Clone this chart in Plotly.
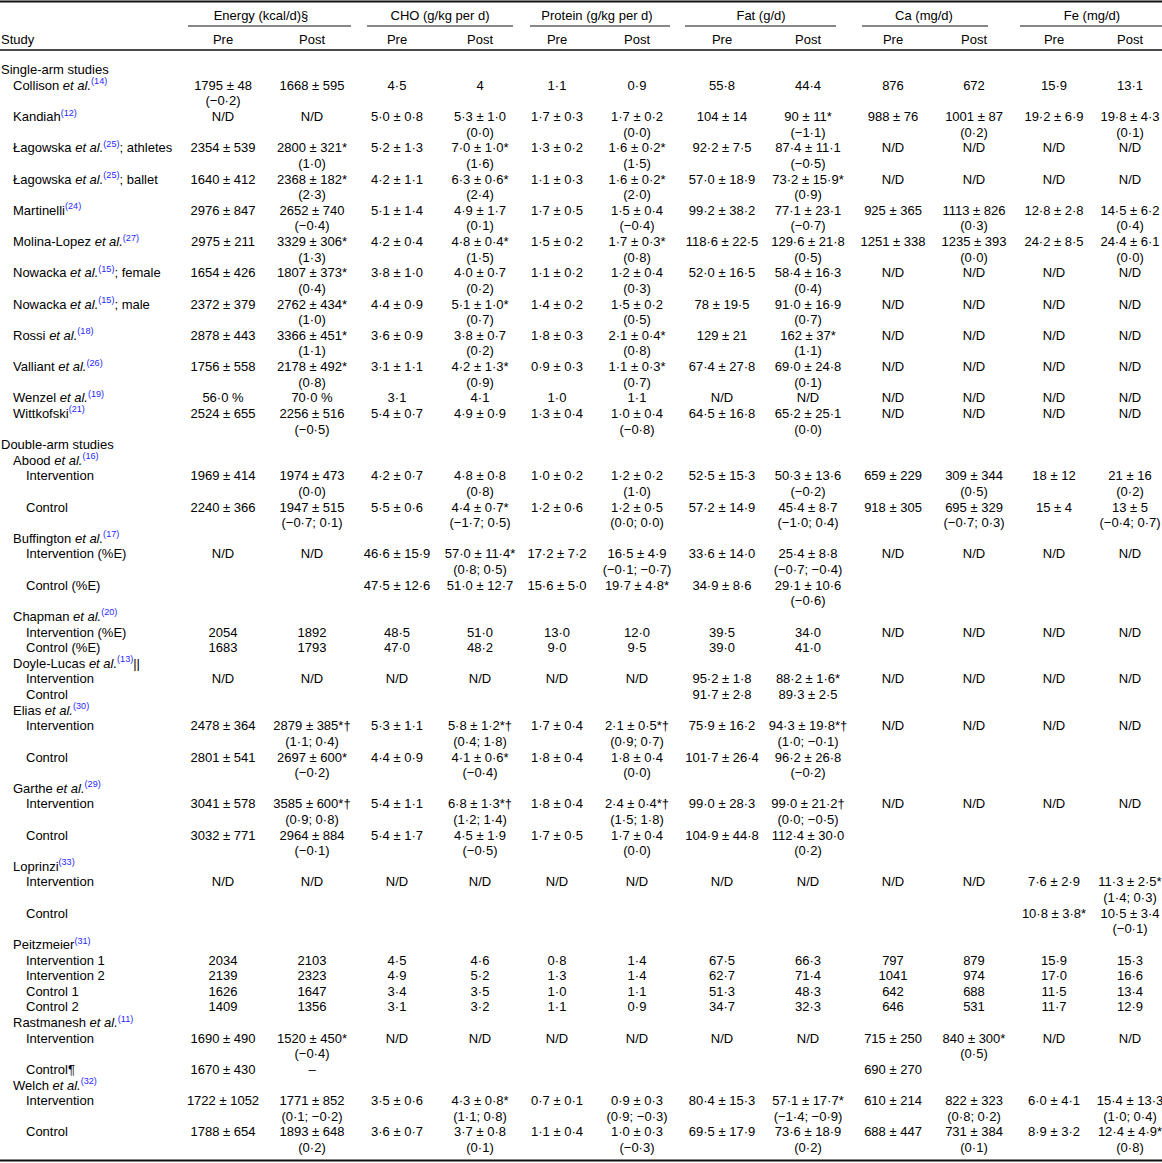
import plotly.graph_objects as go

# ---------------- data ----------------
BLUE = "#1f1fff"
def ref(n):
    return "<sup><span style='color:%s'>(%d)</span></sup>" % (BLUE, n)
ET = " <i>et al.</i>"

studies = [
    "Single-arm studies",
    "Collison" + ET + ref(14),
    "Kandiah" + ref(12),
    "Łagowska" + ET + ref(25) + "; athletes",
    "Łagowska" + ET + ref(25) + "; ballet",
    "Martinelli" + ref(24),
    "Molina-Lopez" + ET + ref(27),
    "Nowacka" + ET + ref(15) + "; female",
    "Nowacka" + ET + ref(15) + "; male",
    "Rossi" + ET + ref(18),
    "Valliant" + ET + ref(26),
    "Wenzel" + ET + ref(19),
    "Wittkofski" + ref(21),
    "Double-arm studies",
    "Abood" + ET + ref(16),
    "Intervention",
    "Control",
    "Buffington" + ET + ref(17),
    "Intervention (%E)",
    "Control (%E)",
    "Chapman" + ET + ref(20),
    "Intervention (%E)",
    "Control (%E)",
    "Doyle-Lucas" + ET + ref(13) + "<span style='color:#000000'>||</span>",
    "Intervention",
    "Control",
    "Elias" + ET + ref(30),
    "Intervention",
    "Control",
    "Garthe" + ET + ref(29),
    "Intervention",
    "Control",
    "Loprinzi" + ref(33),
    "Intervention",
    "Control",
    "Peitzmeier" + ref(31),
    "Intervention 1",
    "Intervention 2",
    "Control 1",
    "Control 2",
    "Rastmanesh" + ET + ref(11),
    "Intervention",
    "Control¶",
    "Welch" + ET + ref(32),
    "Intervention",
    "Control",
]
levels = [0, 1, 1, 1, 1, 1, 1, 1, 1, 1, 1, 1, 1,
          0, 1, 2, 2, 1, 2, 2, 1, 2, 2, 1, 2, 2, 1, 2, 2, 1, 2, 2, 1, 2, 2,
          1, 2, 2, 2, 2, 1, 2, 2, 1, 2, 2]

ND = "N/D"
energy_pre = ["", "1795 ± 48\n(−0·2)", ND, "2354 ± 539", "1640 ± 412", "2976 ± 847", "2975 ± 211",
              "1654 ± 426", "2372 ± 379", "2878 ± 443", "1756 ± 558", "56·0 %", "2524 ± 655",
              "", "", "1969 ± 414", "2240 ± 366", "", ND, "", "", "2054", "1683", "", ND, "",
              "", "2478 ± 364", "2801 ± 541", "", "3041 ± 578", "3032 ± 771", "", ND, "",
              "", "2034", "2139", "1626", "1409", "", "1690 ± 490", "1670 ± 430", "",
              "1722 ± 1052", "1788 ± 654"]
energy_post = ["", "1668 ± 595", ND, "2800 ± 321*\n(1·0)", "2368 ± 182*\n(2·3)", "2652 ± 740\n(−0·4)",
               "3329 ± 306*\n(1·3)", "1807 ± 373*\n(0·4)", "2762 ± 434*\n(1·0)", "3366 ± 451*\n(1·1)",
               "2178 ± 492*\n(0·8)", "70·0 %", "2256 ± 516\n(−0·5)",
               "", "", "1974 ± 473\n(0·0)", "1947 ± 515\n(−0·7; 0·1)", "", ND, "", "", "1892", "1793",
               "", ND, "", "", "2879 ± 385*†\n(1·1; 0·4)", "2697 ± 600*\n(−0·2)", "",
               "3585 ± 600*†\n(0·9; 0·8)", "2964 ± 884\n(−0·1)", "", ND, "",
               "", "2103", "2323", "1647", "1356", "", "1520 ± 450*\n(−0·4)", "–", "",
               "1771 ± 852\n(0·1; −0·2)", "1893 ± 648\n(0·2)"]
cho_pre = ["", "4·5", "5·0 ± 0·8", "5·2 ± 1·3", "4·2 ± 1·1", "5·1 ± 1·4", "4·2 ± 0·4", "3·8 ± 1·0",
           "4·4 ± 0·9", "3·6 ± 0·9", "3·1 ± 1·1", "3·1", "5·4 ± 0·7",
           "", "", "4·2 ± 0·7", "5·5 ± 0·6", "", "46·6 ± 15·9", "47·5 ± 12·6", "", "48·5", "47·0",
           "", ND, "", "", "5·3 ± 1·1", "4·4 ± 0·9", "", "5·4 ± 1·1", "5·4 ± 1·7", "", ND, "",
           "", "4·5", "4·9", "3·4", "3·1", "", ND, "", "", "3·5 ± 0·6", "3·6 ± 0·7"]
cho_post = ["", "4", "5·3 ± 1·0\n(0·0)", "7·0 ± 1·0*\n(1·6)", "6·3 ± 0·6*\n(2·4)", "4·9 ± 1·7\n(0·1)",
            "4·8 ± 0·4*\n(1·5)", "4·0 ± 0·7\n(0·2)", "5·1 ± 1·0*\n(0·7)", "3·8 ± 0·7\n(0·2)",
            "4·2 ± 1·3*\n(0·9)", "4·1", "4·9 ± 0·9",
            "", "", "4·8 ± 0·8\n(0·8)", "4·4 ± 0·7*\n(−1·7; 0·5)", "", "57·0 ± 11·4*\n(0·8; 0·5)",
            "51·0 ± 12·7", "", "51·0", "48·2", "", ND, "", "", "5·8 ± 1·2*†\n(0·4; 1·8)",
            "4·1 ± 0·6*\n(−0·4)", "", "6·8 ± 1·3*†\n(1·2; 1·4)", "4·5 ± 1·9\n(−0·5)", "", ND, "",
            "", "4·6", "5·2", "3·5", "3·2", "", ND, "", "", "4·3 ± 0·8*\n(1·1; 0·8)", "3·7 ± 0·8\n(0·1)"]
protein_pre = ["", "1·1", "1·7 ± 0·3", "1·3 ± 0·2", "1·1 ± 0·3", "1·7 ± 0·5", "1·5 ± 0·2", "1·1 ± 0·2",
               "1·4 ± 0·2", "1·8 ± 0·3", "0·9 ± 0·3", "1·0", "1·3 ± 0·4",
               "", "", "1·0 ± 0·2", "1·2 ± 0·6", "", "17·2 ± 7·2", "15·6 ± 5·0", "", "13·0", "9·0",
               "", ND, "", "", "1·7 ± 0·4", "1·8 ± 0·4", "", "1·8 ± 0·4", "1·7 ± 0·5", "", ND, "",
               "", "0·8", "1·3", "1·0", "1·1", "", ND, "", "", "0·7 ± 0·1", "1·1 ± 0·4"]
protein_post = ["", "0·9", "1·7 ± 0·2\n(0·0)", "1·6 ± 0·2*\n(1·5)", "1·6 ± 0·2*\n(2·0)", "1·5 ± 0·4\n(−0·4)",
                "1·7 ± 0·3*\n(0·8)", "1·2 ± 0·4\n(0·3)", "1·5 ± 0·2\n(0·5)", "2·1 ± 0·4*\n(0·8)",
                "1·1 ± 0·3*\n(0·7)", "1·1", "1·0 ± 0·4\n(−0·8)",
                "", "", "1·2 ± 0·2\n(1·0)", "1·2 ± 0·5\n(0·0; 0·0)", "", "16·5 ± 4·9\n(−0·1; −0·7)",
                "19·7 ± 4·8*", "", "12·0", "9·5", "", ND, "", "", "2·1 ± 0·5*†\n(0·9; 0·7)",
                "1·8 ± 0·4\n(0·0)", "", "2·4 ± 0·4*†\n(1·5; 1·8)", "1·7 ± 0·4\n(0·0)", "", ND, "",
                "", "1·4", "1·4", "1·1", "0·9", "", ND, "", "", "0·9 ± 0·3\n(0·9; −0·3)", "1·0 ± 0·3\n(−0·3)"]
fat_pre = ["", "55·8", "104 ± 14", "92·2 ± 7·5", "57·0 ± 18·9", "99·2 ± 38·2", "118·6 ± 22·5",
           "52·0 ± 16·5", "78 ± 19·5", "129 ± 21", "67·4 ± 27·8", ND, "64·5 ± 16·8",
           "", "", "52·5 ± 15·3", "57·2 ± 14·9", "", "33·6 ± 14·0", "34·9 ± 8·6", "", "39·5", "39·0",
           "", "95·2 ± 1·8", "91·7 ± 2·8", "", "75·9 ± 16·2", "101·7 ± 26·4", "", "99·0 ± 28·3",
           "104·9 ± 44·8", "", ND, "", "", "67·5", "62·7", "51·3", "34·7", "", ND, "", "",
           "80·4 ± 15·3", "69·5 ± 17·9"]
fat_post = ["", "44·4", "90 ± 11*\n(−1·1)", "87·4 ± 11·1\n(−0·5)", "73·2 ± 15·9*\n(0·9)",
            "77·1 ± 23·1\n(−0·7)", "129·6 ± 21·8\n(0·5)", "58·4 ± 16·3\n(0·4)", "91·0 ± 16·9\n(0·7)",
            "162 ± 37*\n(1·1)", "69·0 ± 24·8\n(0·1)", ND, "65·2 ± 25·1\n(0·0)",
            "", "", "50·3 ± 13·6\n(−0·2)", "45·4 ± 8·7\n(−1·0; 0·4)", "", "25·4 ± 8·8\n(−0·7; −0·4)",
            "29·1 ± 10·6\n(−0·6)", "", "34·0", "41·0", "", "88·2 ± 1·6*", "89·3 ± 2·5", "",
            "94·3 ± 19·8*†\n(1·0; −0·1)", "96·2 ± 26·8\n(−0·2)", "", "99·0 ± 21·2†\n(0·0; −0·5)",
            "112·4 ± 30·0\n(0·2)", "", ND, "", "", "66·3", "71·4", "48·3", "32·3", "", ND, "", "",
            "57·1 ± 17·7*\n(−1·4; −0·9)", "73·6 ± 18·9\n(0·2)"]
ca_pre = ["", "876", "988 ± 76", ND, ND, "925 ± 365", "1251 ± 338", ND, ND, ND, ND, ND, ND,
          "", "", "659 ± 229", "918 ± 305", "", ND, "", "", ND, "", "", ND, "", "", ND, "", "",
          ND, "", "", ND, "", "", "797", "1041", "642", "646", "", "715 ± 250", "690 ± 270", "",
          "610 ± 214", "688 ± 447"]
ca_post = ["", "672", "1001 ± 87\n(0·2)", ND, ND, "1113 ± 826\n(0·3)", "1235 ± 393\n(0·0)", ND, ND,
           ND, ND, ND, ND, "", "", "309 ± 344\n(0·5)", "695 ± 329\n(−0·7; 0·3)", "", ND, "", "", ND,
           "", "", ND, "", "", ND, "", "", ND, "", "", ND, "", "", "879", "974", "688", "531", "",
           "840 ± 300*\n(0·5)", "", "", "822 ± 323\n(0·8; 0·2)", "731 ± 384\n(0·1)"]
fe_pre = ["", "15·9", "19·2 ± 6·9", ND, ND, "12·8 ± 2·8", "24·2 ± 8·5", ND, ND, ND, ND, ND, ND,
          "", "", "18 ± 12", "15 ± 4", "", ND, "", "", ND, "", "", ND, "", "", ND, "", "", ND, "",
          "", "7·6 ± 2·9", "10·8 ± 3·8*", "", "15·9", "17·0", "11·5", "11·7", "", ND, "", "",
          "6·0 ± 4·1", "8·9 ± 3·2"]
fe_post = ["", "13·1", "19·8 ± 4·3\n(0·1)", ND, ND, "14·5 ± 6·2\n(0·4)", "24·4 ± 6·1\n(0·0)", ND, ND,
           ND, ND, ND, ND, "", "", "21 ± 16\n(0·2)", "13 ± 5\n(−0·4; 0·7)", "", ND, "", "", ND, "",
           "", ND, "", "", ND, "", "", ND, "", "", "11·3 ± 2·5*\n(1·4; 0·3)", "10·5 ± 3·4\n(−0·1)",
           "", "15·3", "16·6", "13·4", "12·9", "", ND, "", "", "15·4 ± 13·3\n(1·0; 0·4)",
           "12·4 ± 4·9*\n(0·8)"]

groups = ["Energy (kcal/d)§", "CHO (g/kg per d)", "Protein (g/kg per d)", "Fat (g/d)", "Ca (mg/d)", "Fe (mg/d)"]
subheads = ["Pre", "Post"]
first_col_head = "Study"

columns = [energy_pre, energy_post, cho_pre, cho_post, protein_pre, protein_post,
           fat_pre, fat_post, ca_pre, ca_post, fe_pre, fe_post]

# ---------------- layout constants ----------------
W, H = 1162, 1163
FIRST_PX, PITCH = 71.0, 15.62
def ly(px):
    return (px - FIRST_PX) / PITCH

col_x = [223, 312, 397, 480, 557, 637, 722, 808, 893, 974, 1054, 1130]
group_x = [261, 440, 597, 761, 924, 1092]
group_span = [(188, 351), (367, 513), (530, 670), (685, 836), (862, 988), (1020, 1162)]
indent_x = [1, 13, 26]
FONT = dict(family="Liberation Sans, Arial, Helvetica, sans-serif", size=13, color="#000000")

# row start lines
nlines = []
for r in range(len(studies)):
    n = 1
    for c in columns:
        n = max(n, len(c[r].split("\n")) if c[r] else 1)
    nlines.append(n)
starts = []
acc = 0
for n in nlines:
    starts.append(acc)
    acc += n

fig = go.Figure()

# study labels
fig.add_trace(go.Scatter(
    x=[indent_x[l] for l in levels], y=starts, text=studies, mode="text",
    textposition="middle right", textfont=FONT, hoverinfo="skip", showlegend=False))

# value columns
for ci, col in enumerate(columns):
    xs, ys, ts = [], [], []
    for r, cell in enumerate(col):
        if not cell:
            continue
        for k, part in enumerate(cell.split("\n")):
            xs.append(col_x[ci]); ys.append(starts[r] + k); ts.append(part)
    fig.add_trace(go.Scatter(x=xs, y=ys, text=ts, mode="text", textposition="middle center",
                             textfont=FONT, hoverinfo="skip", showlegend=False))

# headers
fig.add_trace(go.Scatter(x=group_x, y=[ly(17)] * len(groups), text=groups, mode="text",
                         textposition="middle center", textfont=FONT, hoverinfo="skip", showlegend=False))
fig.add_trace(go.Scatter(x=col_x, y=[ly(41)] * len(col_x), text=subheads * len(groups), mode="text",
                         textposition="middle center", textfont=FONT, hoverinfo="skip", showlegend=False))
fig.add_trace(go.Scatter(x=[1], y=[ly(41)], text=[first_col_head], mode="text",
                         textposition="middle right", textfont=FONT, hoverinfo="skip", showlegend=False))

# rules
shapes = []
for y_px, w in [(1.5, 2), (50, 1.6), (1160.5, 2)]:
    shapes.append(dict(type="line", xref="x", yref="y", x0=0, x1=W, y0=ly(y_px), y1=ly(y_px),
                       line=dict(color="#111111", width=w)))
for a, b in group_span:
    shapes.append(dict(type="line", xref="x", yref="y", x0=a, x1=b, y0=ly(26), y1=ly(26),
                       line=dict(color="#111111", width=1)))

fig.update_layout(
    width=W, height=H, margin=dict(l=0, r=0, t=0, b=0),
    paper_bgcolor="white", plot_bgcolor="white", shapes=shapes,
    xaxis=dict(range=[0, W], visible=False, fixedrange=True),
    yaxis=dict(range=[ly(H), ly(0)], visible=False, fixedrange=True),
)

fig.write_html("out.html", config={"displayModeBar": False},
               post_script="document.body.style.margin='0';document.body.style.overflow='hidden';")
